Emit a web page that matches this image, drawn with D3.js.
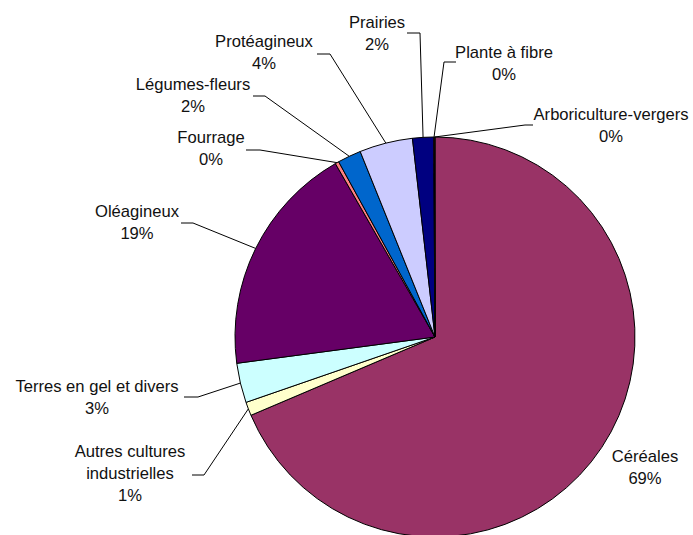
<!DOCTYPE html>
<html>
<head>
<meta charset="utf-8">
<script src="https://cdn.jsdelivr.net/npm/d3@7"></script>
<style>
    body { margin: 0; background: #fff; }
    text { font-family: "Liberation Sans", Arial, sans-serif; font-size: 16.6px; fill: #111; }
</style>
</head>
<body>
<svg id="chart" width="693" height="535"></svg>
<script>
// data (percent of area)
const categories = ["Céréales", "Autres cultures\nindustrielles", "Terres en gel et divers", "Oléagineux",
    "Fourrage", "Légumes-fleurs", "Protéagineux", "Prairies", "Plante à fibre", "Arboriculture-vergers"];
const values = [68.6, 1.1, 3.2, 18.8, 0.3, 1.9, 4.3, 1.7, 0.05, 0.05];
const colors = ["#993366", "#ffffcc", "#ccffff", "#660066", "#ff8080", "#0066cc", "#ccccff", "#000080", "#ff00ff", "#ffff00"];

// label placement: text centre / first baseline, leader start and elbow
const labelPos = [
    { x: 645, y: 462 },
    { x: 130, y: 457, sx: 192, sy: 475, ex: 204 },
    { x: 97, y: 392, sx: 184, sy: 397, ex: 198 },
    { x: 137, y: 217, sx: 181, sy: 223, ex: 193 },
    { x: 211, y: 143, sx: 246, sy: 150, ex: 260 },
    { x: 193, y: 90, sx: 253, sy: 96, ex: 265 },
    { x: 264, y: 47, sx: 317, sy: 54, ex: 330 },
    { x: 377, y: 28, sx: 407, sy: 33, ex: 420 },
    { x: 504, y: 58, sx: 456, sy: 62, ex: 444 },
    { x: 611, y: 120, sx: 533, sy: 125, ex: 525 }
];

const cx = 435, cy = 337, radius = 200;
const total = d3.sum(values);

const rows = categories.map((c, i) => ({ name: c, value: values[i], color: colors[i], pos: labelPos[i] }));

const svg = d3.select("#chart");
const g = svg.append("g").attr("transform", `translate(${cx},${cy})`);

const pie = d3.pie().sort(null).value(d => d.value);
const arc = d3.arc().innerRadius(0).outerRadius(radius);
const edge = d3.arc().innerRadius(radius).outerRadius(radius);

const arcs = pie(rows);

g.selectAll("path.slice")
    .data(arcs)
    .enter()
    .append("path")
    .attr("class", "slice")
    .attr("d", arc)
    .attr("fill", d => d.data.color)
    .attr("stroke", "#000")
    .attr("stroke-width", 1);

// leader lines
svg.selectAll("polyline.leader")
    .data(arcs.filter(d => d.data.pos.sx !== undefined))
    .enter()
    .append("polyline")
    .attr("class", "leader")
    .attr("fill", "none")
    .attr("stroke", "#000")
    .attr("stroke-width", 1)
    .attr("points", d => {
        const p = d.data.pos;
        const c = edge.centroid(d);
        return [[p.sx, p.sy], [p.ex, p.sy], [cx + c[0], cy + c[1]]].map(q => q.join(",")).join(" ");
    });

// labels
const labels = svg.selectAll("text.label")
    .data(arcs)
    .enter()
    .append("text")
    .attr("class", "label")
    .attr("text-anchor", "middle");

labels.each(function(d) {
    const lines = d.data.name.split("\n");
    lines.push(Math.round(d.data.value / total * 100) + "%");
    const t = d3.select(this);
    lines.forEach((line, i) => {
        t.append("tspan")
            .attr("x", d.data.pos.x)
            .attr("y", d.data.pos.y + i * 22)
            .text(line);
    });
});
</script>
</body>
</html>
